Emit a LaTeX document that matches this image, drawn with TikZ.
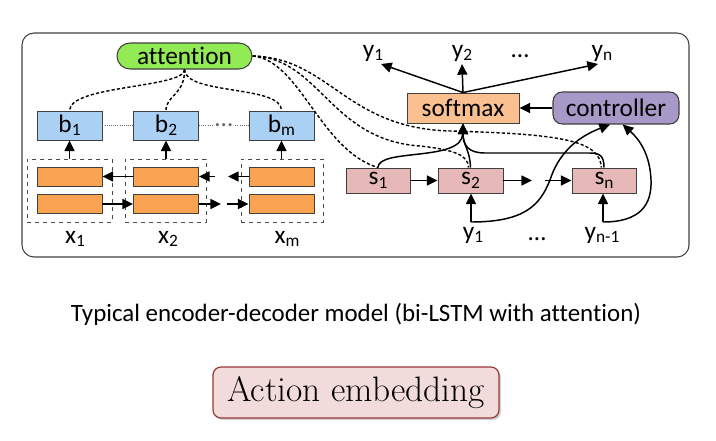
\documentclass[tikz,border=0pt]{standalone}
\usepackage{fontspec}
\newfontfamily\calfont[Ligatures={NoCommon,NoContextual},Contextuals=NoAlternate]{Carlito}
\usetikzlibrary{arrows.meta,shadows}
\definecolor{attg}{RGB}{146,235,85}
\definecolor{bblue}{RGB}{170,208,243}
\definecolor{orng}{RGB}{250,163,80}
\definecolor{smx}{RGB}{250,192,144}
\definecolor{ctrlc}{RGB}{166,153,199}
\definecolor{spink}{RGB}{230,184,183}
\definecolor{embf}{RGB}{242,220,219}
\definecolor{embd}{RGB}{150,55,52}
\newcommand\sbs[1]{\raisebox{-0.28ex}{\fontsize{13}{13}\selectfont #1}}
\begin{document}
\begin{tikzpicture}[x=0.75pt,y=-0.75pt,
  f/.style={font=\calfont\fontsize{19}{19}\selectfont},
  arr/.style={-{Triangle[length=8pt,width=7.5pt]}, line width=1.1pt},
  att/.style={line width=1.05pt, dash pattern=on 2.4pt off 1.6pt},
  bbox/.style={f, draw=black!75, line width=0.7pt, fill=bblue, minimum width=48.75pt, minimum height=21.75pt, inner sep=0pt},
  obox/.style={draw=black!75, line width=0.7pt, fill=orng, minimum width=48.75pt, minimum height=14.25pt, inner sep=0pt},
  dbox/.style={draw=black!70, dashed, line width=0.7pt, minimum height=47.25pt, inner sep=0pt},
  sbox/.style={f, draw=black!75, line width=0.7pt, fill=spink, minimum width=48pt, minimum height=18.75pt, inner sep=0pt},
  lab/.style={f, anchor=base, inner sep=0pt},
]
\useasboundingbox (0,0) rectangle (716,440);
\node[draw=black!75, line width=0.8pt, rounded corners=9pt, minimum width=500.25pt, minimum height=168pt, inner sep=0pt] (frame) at (355.5,145) {};
% encoder
\node[dbox, minimum width=63.75pt] (d1) at (69.5,190.5) {};
\node[dbox, minimum width=60.75pt] (d2) at (165.5,190.5) {};
\node[dbox, minimum width=61.5pt] (dm) at (282,190.5) {};
\node[obox] (o1t) at (69.5,176.5) {};
\node[obox] (o1b) at (69.5,204) {};
\node[obox] (o2t) at (166,176.5) {};
\node[obox] (o2b) at (166,204) {};
\node[obox] (o3t) at (281.5,176.5) {};
\node[obox] (o3b) at (281.5,204) {};
\node[bbox] (b1) at (69.5,125.5) {b\sbs{1}};
\node[bbox] (b2) at (166,125.5) {b\sbs{2}};
\node[bbox] (bm) at (281.5,125.5) {b\sbs{m}};
\node[lab] (x1) at (75,243) {x\sbs{1}};
\node[lab] (x2) at (168,243) {x\sbs{2}};
\node[lab] (xm) at (287,243) {x\sbs{m}};
\draw[arr] (d1.north -| b1) -- (b1.south);
\draw[arr] (d2.north -| b2) -- (b2.south);
\draw[arr] (dm.north -| bm) -- (bm.south);
\draw[arr] (o2t.west) -- (o1t.east);
\coordinate (c1) at (215,176.5);
\draw[arr] (c1) -- (o2t.east);
\coordinate (c2) at (228,176.5);
\draw[arr] (o3t.west) -- (c2);
\draw[arr] (o1b.east) -- (o2b.west);
\coordinate (c3) at (221,204);
\draw[arr] (o2b.east) -- (c3);
\coordinate (c4) at (227,204);
\draw[arr] (c4) -- (o3b.west);
\draw[densely dotted, black!60, line width=0.6pt] (b1) -- (b2);
\draw[densely dotted, black!60, line width=0.6pt] (b2) -- node[f, fill=white, inner sep=1pt] (bd) {…} (bm);
% attention
\node[f, draw=black!75, line width=0.8pt, fill=attg, rounded corners=9.75pt, minimum width=101.25pt, minimum height=19.5pt, inner sep=0pt] (att) at (184.5,56) {attention};
\draw[att] (att.south) .. controls (185,88) and (70,85) .. (b1.north);
\draw[att] (att.south) .. controls (185,95) and (166,95) .. (b2.north);
\draw[att] (att.south) .. controls (185,95) and (282,85) .. (bm.north);
% decoder
\node[f, draw=black!75, line width=0.7pt, fill=smx, minimum width=84pt, minimum height=22.5pt, inner sep=0pt] (soft) at (463,108) {softmax};
\node[f, draw=black!75, line width=0.8pt, fill=ctrlc, rounded corners=7pt, minimum width=94.5pt, minimum height=24pt, inner sep=0pt] (ctrl) at (616,108) {controller};
\draw[arr] (ctrl.west) -- (soft.east);
\node[sbox] (s1) at (378,180.5) {s\sbs{1}};
\node[sbox, minimum width=48.75pt] (s2) at (470.5,180.5) {s\sbs{2}};
\node[sbox] (sn) at (604,180.5) {s\sbs{n}};
\draw[att] (att.east) .. controls (300,60) and (320,150) .. (s1.north);
\draw[att] (att.east) .. controls (320,58) and (330,140) .. (420,146) .. controls (455,150) and (468,155) .. ([xshift=-1.5pt]s2.north);
\draw[att] (att.east) .. controls (330,58) and (345,128) .. (450,131) .. controls (560,134) and (600,140) .. ([xshift=-2pt]sn.north);
\draw[arr] (s1.east) -- (s2.west);
\coordinate (c5) at (532,180.5);
\draw[arr] (s2.east) -- (c5);
\coordinate (c6) at (545,180.5);
\draw[arr] (c6) -- (sn.west);
\node[lab] (y1t) at (373,57) {y\sbs{1}};
\node[lab] (y2t) at (462,57) {y\sbs{2}};
\node[lab] (dt) at (520,57) {…};
\node[lab] (ynt) at (602,57) {y\sbs{n}};
\coordinate (e1) at (381,64);
\coordinate (e2) at (462,64);
\coordinate (e3) at (598,64);
\draw[arr] (soft.north) -- (e1);
\draw[arr] (soft.north) -- (e2);
\draw[arr] (soft.north) -- (e3);
\draw[arr] (s1.north) .. controls (378,148) and (462,162) .. (soft.south);
\draw[arr] (s2.north) .. controls (470,150) and (463,145) .. (soft.south);
\draw[arr] (sn.north) .. controls (604,156) and (600,153) .. (590,153) -- (485,153) .. controls (468,153) and (463,145) .. (soft.south);
\node[lab] (y1b) at (473,239) {y\sbs{1}};
\node[lab] (db) at (537,240) {…};
\node[lab] (ynb) at (602,239) {y\sbs{n-1}};
\coordinate (ya) at (471,222);
\coordinate (yb) at (603,222);
\draw[arr] (ya) -- (ya |- s2.south);
\draw[arr] (yb) -- (yb |- sn.south);
\draw[arr] (ya) .. controls (525,222) and (540,205) .. (550,180) .. controls (558,155) and (575,138) .. ([xshift=-4.5pt]ctrl.south);
\draw[arr] (yb) .. controls (640,222) and (652,205) .. (651,180) .. controls (650,155) and (640,140) .. ([xshift=5pt]ctrl.south);
% caption
\node[font=\calfont\fontsize{18.7}{18.7}\selectfont, anchor=base, inner sep=0pt] (cap) at (356,321) {Typical encoder-decoder model (bi-LSTM with attention)};
\node[draw=embd, fill=embf, line width=0.9pt, rounded corners=6pt, minimum width=214.5pt, minimum height=38.25pt, inner sep=0pt, drop shadow={shadow xshift=1.5pt, shadow yshift=-1.5pt, opacity=0.35}, font=\fontsize{26.5}{26.5}\selectfont] (ae) at (356,392.5) {Action embedding};
\end{tikzpicture}
\end{document}
